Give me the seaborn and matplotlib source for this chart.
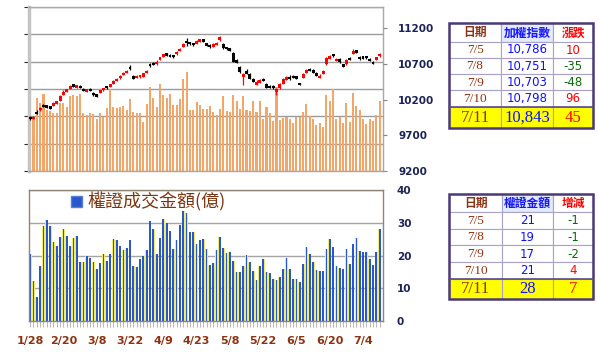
import numpy as np
import seaborn as sns
import matplotlib.pyplot as plt
from matplotlib.patches import Rectangle, Patch

# ---- data -------------------------------------------------------------
tick_labels = ['1/28', '2/20', '3/8', '3/22', '4/9', '4/23', '5/8', '5/22', '6/5', '6/20', '7/4']

price_open = [
    9955, 9935, 10035, 10055, 10130, 10115, 10100, 10120, 10150, 10185,
    10265, 10320, 10360, 10410, 10375, 10390, 10350, 10320, 10360, 10300,
    10270, 10300, 10335, 10385, 10385, 10425, 10470, 10505, 10550, 10580,
    10650, 10530, 10510, 10520, 10530, 10580, 10700, 10715, 10700, 10760,
    10810, 10850, 10830, 10810, 10840, 10890, 10950, 11010, 11000, 10990,
    10990, 11020, 11045, 10990, 10965, 10950, 10975, 11040, 10990, 10935,
    10920, 10860, 10760, 10660, 10530, 10610, 10570, 10500, 10415, 10440,
    10495, 10420, 10400, 10395, 10320, 10365, 10430, 10480, 10530, 10540,
    10525, 10430, 10510, 10580, 10630, 10615, 10580, 10510, 10570, 10700,
    10780, 10830, 10750, 10770, 10690, 10700, 10790, 10850, 10880, 10800,
    10795, 10800, 10770, 10730, 10760, 10815]
price_close = [
    9935, 9960, 10005, 10090, 10105, 10095, 10080, 10160, 10175, 10255,
    10320, 10345, 10395, 10390, 10395, 10370, 10325, 10345, 10330, 10265,
    10250, 10335, 10360, 10365, 10420, 10470, 10500, 10545, 10580, 10610,
    10630, 10500, 10530, 10535, 10575, 10610, 10675, 10690, 10740, 10800,
    10835, 10825, 10805, 10800, 10870, 10920, 10990, 10995, 10985, 10970,
    11025, 11045, 11020, 10965, 10940, 10980, 11005, 11085, 10925, 10910,
    10895, 10740, 10720, 10590, 10570, 10570, 10500, 10460, 10460, 10480,
    10470, 10375, 10370, 10365, 10360, 10420, 10490, 10520, 10490, 10510,
    10500, 10410, 10570, 10625, 10610, 10585, 10545, 10545, 10600, 10790,
    10810, 10815, 10775, 10730, 10670, 10760, 10760, 10895, 10865, 10770,
    10780, 10786, 10751, 10703, 10798, 10843]
price_high = [
    9975, 9970, 10050, 10100, 10140, 10125, 10110, 10170, 10185, 10260,
    10330, 10355, 10400, 10420, 10405, 10400, 10360, 10355, 10370, 10310,
    10280, 10340, 10370, 10395, 10425, 10475, 10510, 10550, 10590, 10620,
    10690, 10540, 10540, 10545, 10580, 10620, 10710, 10725, 10750, 10805,
    10845, 10860, 10840, 10820, 10880, 10925, 10995, 11060, 11010, 11000,
    11035, 11055, 11050, 11000, 10975, 10990, 11015, 11095, 11000, 10945,
    10930, 10870, 10770, 10670, 10580, 10625, 10580, 10510, 10470, 10490,
    10505, 10430, 10410, 10405, 10370, 10430, 10500, 10530, 10540, 10550,
    10535, 10440, 10580, 10635, 10640, 10625, 10590, 10555, 10610, 10800,
    10820, 10845, 10785, 10780, 10700, 10770, 10800, 10905, 10895, 10810,
    10805, 10810, 10780, 10740, 10805, 10850]
price_low = [
    9915, 9925, 9995, 10045, 10095, 10085, 10070, 10115, 10140, 10180,
    10260, 10310, 10350, 10380, 10365, 10360, 10315, 10310, 10320, 10255,
    10240, 10295, 10325, 10355, 10375, 10420, 10460, 10495, 10540, 10570,
    10620, 10490, 10500, 10510, 10520, 10570, 10665, 10680, 10690, 10750,
    10800, 10815, 10795, 10790, 10830, 10880, 10940, 10960, 10970, 10960,
    10980, 11010, 11010, 10955, 10930, 10940, 10965, 11030, 10915, 10900,
    10885, 10730, 10710, 10580, 10410, 10560, 10490, 10450, 10405, 10430,
    10460, 10365, 10360, 10355, 10270, 10355, 10420, 10470, 10480, 10500,
    10490, 10400, 10500, 10570, 10600, 10575, 10535, 10500, 10560, 10690,
    10770, 10805, 10740, 10720, 10660, 10690, 10750, 10840, 10855, 10760,
    10770, 10775, 10740, 10695, 10750, 10805]

# market turnover (orange bars, 億)
turnover = [
    901, 993, 1342, 1238, 1404, 1116, 1097, 1067, 1054, 1238,
    1250, 1177, 1373, 1391, 1373, 1404, 1067, 1024, 1054, 1036,
    944, 1067, 993, 1146, 1496, 1177, 1146, 1165, 1189, 1116,
    1312, 1085, 1054, 1054, 901, 1226, 1533, 1342, 1177, 1594,
    1391, 1330, 1404, 1208, 1208, 1318, 1686, 1808, 1116, 1116,
    1257, 1200, 1134, 1134, 1195, 1073, 1024, 1134, 1367, 1103,
    1085, 1391, 1287, 1134, 1379, 1122, 1103, 1287, 1073, 1275,
    950, 1177, 1054, 920, 1532, 938, 962, 980, 950, 870,
    993, 993, 1073, 1220, 1011, 950, 840, 877, 797, 1398,
    1275, 1502, 950, 993, 870, 1244, 901, 1428, 1195, 1116,
    950, 858, 950, 920, 1024, 1275]

# warrant turnover (blue bars, 億)
warrant = [
    20.6, 12.3, 7.4, 16.9, 28.9, 30.9, 29.0, 24.2, 23.0, 25.7,
    28.2, 25.9, 22.8, 25.4, 26.0, 18.0, 18.1, 20.0, 19.2, 18.1,
    15.8, 17.8, 20.4, 18.4, 20.4, 25.0, 24.8, 23.0, 21.8, 22.4,
    24.6, 16.9, 16.6, 19.0, 20.0, 21.7, 30.5, 28.1, 20.4, 25.2,
    31.2, 29.9, 27.4, 22.1, 24.6, 29.2, 33.6, 33.1, 27.2, 27.2,
    23.6, 24.8, 25.1, 21.9, 17.2, 17.8, 21.7, 25.7, 22.4, 20.8,
    21.2, 18.4, 14.9, 14.9, 16.9, 20.3, 18.1, 15.4, 12.5, 16.9,
    18.9, 14.9, 14.6, 12.9, 12.5, 13.4, 16.0, 19.2, 16.0, 12.8,
    12.8, 12.0, 17.4, 22.5, 20.6, 18.0, 15.6, 15.3, 15.3, 21.9,
    25.0, 22.6, 16.7, 16.3, 15.8, 21.9, 17.4, 23.5, 25.3, 21.5,
    21.2, 21, 19, 17, 21, 28]

# tables
tbl_dates = ['7/5', '7/8', '7/9', '7/10', '7/11']
tbl_index = [10786, 10751, 10703, 10798, 10843]
tbl_index_chg = [10, -35, -48, 96, 45]
tbl_warrant = [21, 19, 17, 21, 28]
tbl_warrant_chg = [-1, -1, -2, 4, 7]

n = len(price_close)
idx = list(range(n))
tick_pos = idx[::10]

# ---- style ------------------------------------------------------------
sns.set_style('white')
plt.rcParams['font.family'] = ['DejaVu Sans', 'Noto Sans CJK TC']
plt.rcParams['patch.force_edgecolor'] = False
CJK = ['Noto Sans CJK TC', 'DejaVu Sans']
SERIF = ['Liberation Serif', 'Noto Sans CJK TC']
NAVY = '#1b2256'
BROWN = '#8b3312'

W, H = 598, 352
fig = plt.figure(figsize=(W / 100, H / 100), dpi=100)


def px_axes(x0, y0, x1, y1):
    return fig.add_axes([x0 / W, 1 - y1 / H, (x1 - x0) / W, (y1 - y0) / H])


# ---- top panel: turnover + candles -------------------------------------
ax_v = px_axes(29, 7, 383, 171)
sns.barplot(x=idx, y=turnover, color='#f3a66a', saturation=1, width=0.62,
            errorbar=None, linewidth=0, ax=ax_v)
ax_v.set_ylim(0, 3000)
ax_v.set_yticks(np.arange(0, 3001, 500))
ax_v.yaxis.grid(True, color='#9c9c9c', lw=1)
ax_v.set_axisbelow(True)
ax_v.tick_params(left=False, labelleft=False, bottom=False, labelbottom=False)
ax_v.set_xlabel('')
ax_v.set_ylabel('')
for s in ax_v.spines.values():
    s.set_color('#a8a8a8')
    s.set_linewidth(1)
ax_v.spines['left'].set_linewidth(2.5)
ax_v.spines['left'].set_color('#c4c4c4')

ax_p = ax_v.twinx()
o = np.array(price_open)
c = np.array(price_close)
cols = ['#ff0000' if cc >= oo else '#000000' for oo, cc in zip(o, c)]
ax_p.vlines(idx, price_low, price_high, colors=cols, lw=0.9)
ax_p.bar(idx, np.maximum(np.abs(c - o), 32), bottom=np.minimum(o, c) - 6,
         width=0.88, color=cols, linewidth=0)
ax_p.set_ylim(9200, 11500)
ax_p.set_yticks(range(9200, 11201, 500))
ax_p.tick_params(axis='y', right=True, length=3, width=0.8, color='#8a8a8a',
                 pad=8, labelsize=7.5, labelcolor=NAVY)
for t in ax_p.get_yticklabels():
    t.set_fontweight('bold')
for s in ax_p.spines.values():
    s.set_visible(False)
ax_v.set_xlim(-0.35, n)

# ---- bottom panel: warrant turnover ------------------------------------
ax_w = px_axes(29, 190, 383, 321)
sns.barplot(x=idx, y=warrant, color='#f0ec70', saturation=1, width=0.85,
            errorbar=None, linewidth=0, ax=ax_w)
sns.barplot(x=idx, y=warrant, color='#2a58cc', saturation=1, width=0.52,
            errorbar=None, linewidth=0, ax=ax_w)
ax_w.set_xlim(-0.35, n)
ax_w.set_ylim(0, 40)
ax_w.yaxis.tick_right()
ax_w.set_yticks(range(0, 41, 10))
ax_w.yaxis.grid(True, color='#a4a4a4', lw=1)
ax_w.set_axisbelow(True)
ax_w.tick_params(axis='y', right=True, length=0, pad=10, labelsize=7.5,
                 labelcolor=NAVY)
for t in ax_w.get_yticklabels():
    t.set_fontweight('bold')
ax_w.set_xticks(idx, minor=True)
ax_w.set_xticks(tick_pos, tick_labels)
ax_w.tick_params(axis='x', which='both', bottom=True, length=4, width=0.7,
                 color='#b8b8b8')
ax_w.tick_params(axis='x', which='major', pad=7, labelsize=8, labelcolor=BROWN)
for t in ax_w.get_xticklabels():
    t.set_fontweight('bold')
ax_w.set_xlabel('')
ax_w.set_ylabel('')
for s in ax_w.spines.values():
    s.set_color('#8f8478')
    s.set_linewidth(1)
ax_w.legend([Patch(facecolor='#2a58cc', edgecolor='#5a7ed8')],
            ['權證成交金額(億)'], loc='upper left', bbox_to_anchor=(0.118, 0.98),
            frameon=False, prop={'family': CJK, 'size': 13},
            labelcolor='#7b3512', handlelength=0.6, handleheight=0.6,
            handletextpad=0.35, borderaxespad=0, borderpad=0)

# ---- tables -------------------------------------------------------------
ax_t = fig.add_axes([0, 0, 1, 1])
ax_t.set_xlim(0, W)
ax_t.set_ylim(H, 0)
ax_t.axis('off')


def sign_color(v):
    return '#ff0000' if v > 0 else '#0a6a0a'


def draw_table(xs, ys, headers, values, changes, value_fmt):
    head_cols = [BROWN, '#1515ff', '#ff0000']
    for r in range(6):
        for k in range(3):
            bg = 'white'
            if r == 5:
                bg = '#ffff00'
            elif r == 0 and k == 1:
                bg = '#e2eaff'
            ax_t.add_patch(Rectangle((xs[k], ys[r]), xs[k + 1] - xs[k],
                                     ys[r + 1] - ys[r], facecolor=bg,
                                     edgecolor='#a9a2c6', lw=0.8))
    ax_t.plot([xs[0], xs[3]], [ys[5], ys[5]], color='#5b4b86', lw=1.2)
    ax_t.add_patch(Rectangle((xs[0], ys[0]), xs[3] - xs[0], ys[6] - ys[0],
                             fill=False, edgecolor='#4a3a7a', lw=1.8))
    cx = [(xs[k] + xs[k + 1]) / 2 for k in range(3)]
    for k in range(3):
        ax_t.text(cx[k], (ys[0] + ys[1]) / 2 + 0.5, headers[k], color=head_cols[k],
                  ha='center', va='center', fontsize=8.5, family=CJK,
                  fontweight='bold')
    for r in range(5):
        cy = (ys[r + 1] + ys[r + 2]) / 2 + 0.5
        last = r == 4
        big = 12 if last else None
        ax_t.text(cx[0], cy, tbl_dates[r], color=BROWN, ha='center', va='center',
                  fontsize=big or 9.5, family=SERIF)
        ax_t.text(cx[1], cy, value_fmt(values[r]), color='#1010ff', ha='center',
                  va='center', fontsize=big or 8.5,
                  family=SERIF if last else ['DejaVu Sans'])
        ax_t.text(cx[2], cy, str(changes[r]), color=sign_color(changes[r]),
                  ha='center', va='center', fontsize=big or 8.5,
                  family=SERIF if last else ['DejaVu Sans'])


draw_table([449, 501, 553, 593], [23, 41.5, 57.5, 74, 90, 106.5, 128],
           ['日期', '加權指數', '漲跌'], tbl_index, tbl_index_chg,
           lambda v: f'{v:,}')
draw_table([449, 502, 553, 593], [194, 211.5, 228.5, 245, 262, 278.5, 298.5],
           ['日期', '權證金額', '增減'], tbl_warrant, tbl_warrant_chg,
           lambda v: str(v))

fig.savefig('out.png', dpi=100)
